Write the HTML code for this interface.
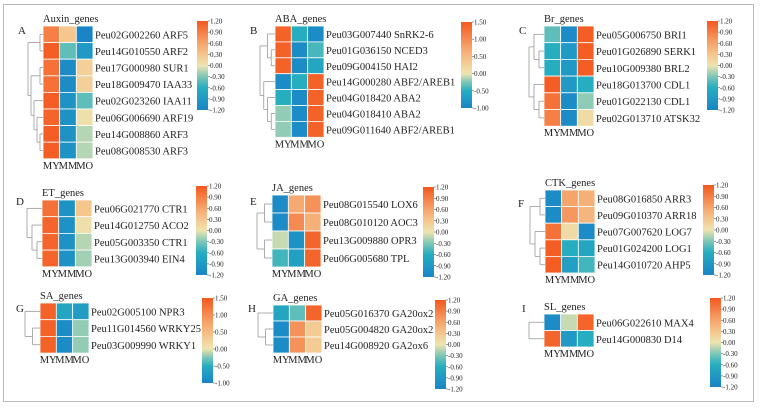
<!DOCTYPE html>
<html><head><meta charset="utf-8">
<style>
html,body{margin:0;padding:0;background:#fff;}
svg{display:block;}
svg text{font-family:"Liberation Serif","Times New Roman",serif;fill:#222;}
</style></head>
<body>
<svg id="fig" width="760" height="408" viewBox="0 0 760 408" xmlns="http://www.w3.org/2000/svg" font-family="Liberation Serif, serif">
<rect x="3.5" y="4.5" width="750" height="397" fill="#fff" stroke="#bbb" stroke-width="1"/>
</svg>
<script>
// ---- data ----
const conditions = ["MY","MM","MO"];
const genesA = ["Peu02G002260 ARF5","Peu14G010550 ARF2","Peu17G000980 SUR1","Peu18G009470 IAA33","Peu02G023260 IAA11","Peu06G006690 ARF19","Peu14G008860 ARF3","Peu08G008530 ARF3"];
const valsA = [[0.9,0.3,-1.2],[1.15,-0.4,-0.9],[1.0,-1.1,0.2],[1.0,-1.1,0.2],[1.15,-1.0,-0.4],[1.1,-1.0,0.05],[1.15,-1.0,-0.15],[1.15,-1.0,-0.15]];
const treeA = [[0,1],[[2,3],[4,[5,[6,7]]]]];
const genesB = ["Peu03G007440 SnRK2-6","Peu01G036150 NCED3","Peu09G004150 HAI2","Peu14G000280 ABF2/AREB1","Peu04G018420 ABA2","Peu04G018410 ABA2","Peu09G011640 ABF2/AREB1"];
const valsB = [[1.4,-0.5,-0.9],[1.4,-0.9,-0.4],[1.4,-0.9,-0.6],[-0.9,-0.5,1.4],[-0.5,-0.9,1.4],[-0.2,-0.9,1.4],[-0.2,-0.9,1.4]];
const treeB = [[0,[1,2]],[3,[4,[5,6]]]];
const genesC = ["Peu05G006750 BRI1","Peu01G026890 SERK1","Peu10G009380 BRL2","Peu18G013700 CDL1","Peu01G022130 CDL1","Peu02G013710 ATSK32"];
const valsC = [[-0.4,-1.1,1.15],[-0.6,-0.9,1.15],[-0.6,-0.9,1.15],[1.15,-0.9,-0.6],[1.0,-1.1,-0.25],[0.9,-1.1,0.1]];
const treeC = [[0,[1,2]],[3,[4,5]]];
const genesD = ["Peu06G021770 CTR1","Peu14G012750 ACO2","Peu05G003350 CTR1","Peu13G003940 EIN4"];
const valsD = [[1.0,-1.0,0.3],[1.1,-1.0,0.05],[1.1,-1.0,-0.15],[1.1,-1.0,-0.2]];
const treeD = [0,[1,[2,3]]];
const genesE = ["Peu08G015540 LOX6","Peu08G010120 AOC3","Peu13G009880 OPR3","Peu06G005680 TPL"];
const valsE = [[-1.1,0.55,0.75],[-1.1,0.8,0.5],[-0.1,-1.0,1.1],[-0.5,-0.8,1.1]];
const treeE = [[0,1],[2,3]];
const genesF = ["Peu08G016850 ARR3","Peu09G010370 ARR18","Peu07G007620 LOG7","Peu01G024200 LOG1","Peu14G010720 AHP5"];
const valsF = [[-1.1,0.6,0.5],[-1.1,0.7,0.45],[1.0,0.1,-1.1],[1.15,-0.6,-0.7],[1.15,-0.8,-0.5]];
const treeF = [[0,1],[2,[3,4]]];
const genesG = ["Peu02G005100 NPR3","Peu11G014560 WRKY25","Peu03G009990 WRKY1"];
const valsG = [[1.4,-0.6,-0.7],[1.4,-0.9,-0.2],[1.4,-0.9,-0.2]];
const treeG = [0,[1,2]];
const genesH = ["Peu05G016370 GA20ox2","Peu05G004820 GA20ox2","Peu14G008920 GA2ox6"];
const valsH = [[-0.7,-0.4,1.1],[-1.1,0.75,0.25],[-1.1,0.75,0.25]];
const treeH = [0,[1,2]];
const genesI = ["Peu06G022610 MAX4","Peu14G000830 D14"];
const valsI = [[-1.1,-0.1,1.1],[1.1,-0.9,-0.6]];
const treeI = [0,1];
const ticks12 = ["1.20","0.90","0.60","0.30","0.00","-0.30","-0.60","-0.90","-1.20"];
const ticks15 = ["1.50","1.00","0.50","0.00","-0.50","-1.00"];

// ---- layout ----
const panels = [
 {id:"a",letter:"A",title:"Auxin_genes",genes:genesA,vals:valsA,tree:treeA,x:43,y:26,w:50,rh:16.6,min:-1.2,max:1.2,ticks:ticks12,cb:[197,21,11,89],lx:18,ly:34},
 {id:"b",letter:"B",title:"ABA_genes",genes:genesB,vals:valsB,tree:treeB,x:275,y:26,w:49,rh:15.9,min:-1,max:1.5,ticks:ticks15,cb:[461,22,11,86],lx:250,ly:34},
 {id:"c",letter:"C",title:"Br_genes",genes:genesC,vals:valsC,tree:treeC,x:544,y:26,w:50,rh:16.7,min:-1.2,max:1.2,ticks:ticks12,cb:[707,21,11,89],lx:519,ly:34},
 {id:"d",letter:"D",title:"ET_genes",genes:genesD,vals:valsD,tree:treeD,x:42,y:200,w:50,rh:16.7,min:-1.2,max:1.2,ticks:ticks12,cb:[196,186,11,89],lx:16,ly:205},
 {id:"e",letter:"E",title:"JA_genes",genes:genesE,vals:valsE,tree:treeE,x:272,y:195,w:49,rh:18,min:-1.2,max:1.2,ticks:ticks12,cb:[423,187,11,90],lx:250,ly:205},
 {id:"f",letter:"F",title:"CTK_genes",genes:genesF,vals:valsF,tree:treeF,x:545,y:190,w:50,rh:16.6,min:-1.2,max:1.2,ticks:ticks12,cb:[703,185,11,90],lx:518,ly:207},
 {id:"g",letter:"G",title:"SA_genes",genes:genesG,vals:valsG,tree:treeG,x:40,y:303,w:49,rh:16.7,min:-1,max:1.5,ticks:ticks15,cb:[202,298,11,85],lx:16,ly:312},
 {id:"h",letter:"H",title:"GA_genes",genes:genesH,vals:valsH,tree:treeH,x:273,y:305,w:49,rh:16,min:-1.2,max:1.2,ticks:ticks12,cb:[435,300,11,89],lx:248,ly:312},
 {id:"i",letter:"I",title:"SL_genes",genes:genesI,vals:valsI,tree:treeI,x:544,y:314,w:50,rh:16.5,min:-1.2,max:1.2,ticks:ticks12,cb:[710,298,11,89],lx:522,ly:312}
];
const NS="http://www.w3.org/2000/svg";
const FONT="'Liberation Serif', 'Times New Roman', serif";
const svg=document.getElementById("fig");
const stops=[[0,[26,132,199]],[0.25,[38,173,192]],[0.375,[124,198,182]],[0.5,[238,228,176]],[0.625,[245,198,142]],[0.75,[245,165,108]],[1,[244,88,30]]];
function cmapT(t){t=Math.max(0,Math.min(1,t));for(let i=1;i<stops.length;i++){if(t<=stops[i][0]){const a=stops[i-1],b=stops[i];const f=(t-a[0])/(b[0]-a[0]);const c=a[1].map((v,k)=>Math.round(v+(b[1][k]-v)*f));return `rgb(${c[0]},${c[1]},${c[2]})`;}}return "rgb(244,88,30)";}
function colorFor(v,min,max){return cmapT(v>=0?0.5+0.5*v/max:0.5-0.5*v/min);}
function el(tag,attrs,parent){const e=document.createElementNS(NS,tag);for(const k in attrs)e.setAttribute(k,attrs[k]);(parent||svg).appendChild(e);return e;}
function txt(s,attrs,parent){attrs["font-family"]=FONT;const t=el("text",attrs,parent);t.style.fontFamily=FONT;t.textContent=s;return t;}

panels.forEach(p=>{
 const g=el("g",{});
 
 
 const cw=p.w/3;
 const xS=j=>p.x+j*cw, yS=i=>p.y+i*p.rh;
 const L=txt(p.letter,{x:p.lx,y:p.ly,"font-size":11},g);
 
 
 const T=txt(p.title,{x:p.x,y:p.y-4,"font-size":10.5},g);
 
 
 p.vals.forEach((row,i)=>{
  row.forEach((v,j)=>{
   const r=el("rect",{x:xS(j),y:yS(i),width:cw,height:p.rh,fill:colorFor(v,p.min,p.max),stroke:"#fff","stroke-width":0.8},g);
   
   
  });
  const gl=txt(p.genes[i],{x:p.x+p.w+2,y:yS(i)+p.rh/2+4,"font-size":10.5},g);
  
  
 });
 conditions.forEach((c,j)=>{
  const cl=txt(c,{x:xS(j)+cw/2,y:yS(p.vals.length)+10,"font-size":10.5,"text-anchor":"middle"},g);
  
  
 });
 function hgt(n){return Array.isArray(n)?1+Math.max(...n.map(hgt)):0;}
 const H=hgt(p.tree)||1, sc=15/H;
 function draw(n){
  if(!Array.isArray(n))return {y:yS(n)+p.rh/2,x:p.x};
  const ch=n.map(draw);const h=hgt(n);const x=p.x-h*sc;
  ch.forEach(c=>{const ln=el("line",{x1:c.x,y1:c.y,x2:x,y2:c.y,stroke:"#999","stroke-width":0.8},g);});
  const ys=ch.map(c=>c.y);
  const vl=el("line",{x1:x,y1:Math.min(...ys),x2:x,y2:Math.max(...ys),stroke:"#999","stroke-width":0.8},g);
  
  
  return {y:(Math.min(...ys)+Math.max(...ys))/2,x:x};
 }
 if(Array.isArray(p.tree))draw(p.tree);
 const [cx,cy,cwid,ch]=p.cb;
 const gid="grad"+p.id;
 const defs=el("defs",{},g);
 const lg=el("linearGradient",{id:gid,x1:0,y1:1,x2:0,y2:0},defs);
 for(let k=0;k<=20;k++){const v=p.min+(p.max-p.min)*k/20;el("stop",{offset:k/20,"stop-color":colorFor(v,p.min,p.max)},lg);}
 const cbr=el("rect",{x:cx,y:cy,width:cwid,height:ch,fill:`url(#${gid})`},g);
 
 
 p.ticks.forEach((t,k)=>{
  const ty=cy+ch*k/(p.ticks.length-1);
  el("line",{x1:cx+cwid,y1:ty,x2:cx+cwid+2,y2:ty,stroke:"#555","stroke-width":0.6},g);
  const tl=txt(t,{x:cx+cwid+2,y:ty+2.5,"font-size":7},g);
  
  
 });
});
</script>
</body></html>
